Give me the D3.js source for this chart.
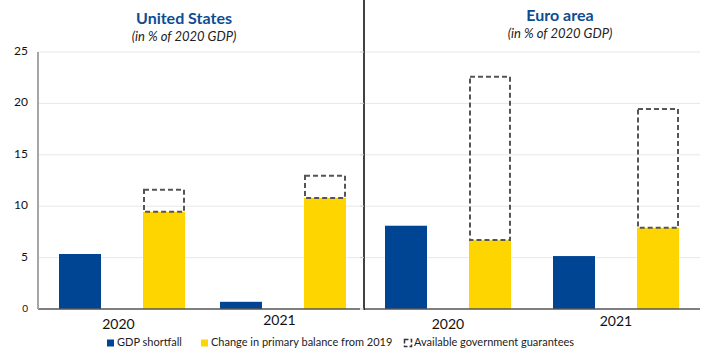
<!DOCTYPE html>
<html><head><meta charset="utf-8">
<script src="https://cdn.jsdelivr.net/npm/d3@7"></script>
<style>body{margin:0;background:#fff}svg{display:block}text{font-family:Lato,"Open Sans",sans-serif}</style>
</head><body><svg id="c" width="712" height="360"></svg>
<script>
const categories = ["2020", "2021"];
const regions = ["United States", "Euro area"];
const subtitle = "(in % of 2020 GDP)";
const seriesNames = ["GDP shortfall", "Change in primary balance from 2019", "Available government guarantees"];
const gdpShortfall = { "United States": [5.35, 0.7], "Euro area": [8.1, 5.15] };
const primaryBalance = { "United States": [9.45, 10.8], "Euro area": [6.7, 7.9] };
const guarantees = { "United States": [2.15, 2.15], "Euro area": [15.9, 11.55] };
const yTicks = [0, 5, 10, 15, 20, 25];

const blue = "#004494", yellow = "#FFD500", dash = "#555";
const svg = d3.select("#c");
const y = d3.scaleLinear().domain([0, 25]).range([309, 52]);

const panels = [
  { region: "United States", x0: 38, x1: 360, titleY: 20, subY: 38, tcx: 184, tcy: [325, 321] },
  { region: "Euro area", x0: 364, x1: 700, titleY: 17, subY: 35, tcx: 560, tcy: [325, 322] }
];

panels.forEach((p, pi) => {
  const g = svg.append("g");
  const xb = d3.scaleBand().domain(categories).range([p.x0, p.x1]);
  const inner = d3.scaleBand().domain(["gdp", "pb"]).range([21, 21 + 126]).paddingInner(0.5);
  // grid
  g.selectAll("line.grid").data(yTicks.filter(t => t > 0)).join("line")
    .attr("x1", p.x0).attr("x2", p.x1).attr("y1", d => y(d)).attr("y2", d => y(d))
    .attr("stroke", "#e8e8e8").attr("stroke-width", 1);
  categories.forEach((c, i) => {
    const bx = xb(c);
    const gv = gdpShortfall[p.region][i], pv = primaryBalance[p.region][i], gu = guarantees[p.region][i];
    g.append("rect").attr("x", bx + inner("gdp")).attr("width", inner.bandwidth())
      .attr("y", y(gv)).attr("height", y(0) - y(gv)).attr("fill", blue);
    g.append("rect").attr("x", bx + inner("pb")).attr("width", inner.bandwidth())
      .attr("y", y(pv)).attr("height", y(0) - y(pv)).attr("fill", yellow);
    g.append("rect").attr("x", bx + inner("pb") + 1).attr("width", inner.bandwidth() - 2)
      .attr("y", y(pv + gu)).attr("height", y(pv) - y(pv + gu))
      .attr("fill", "none").attr("stroke", dash).attr("stroke-width", 2).attr("stroke-dasharray", "5,3");
    g.append("text").attr("x", bx + xb.bandwidth() / 2).attr("y", p.tcy[i])
      .attr("text-anchor", "middle").attr("dominant-baseline", "middle")
      .attr("font-size", 14).attr("fill", "#111").text(c);
  });
  // x axis
  g.append("line").attr("x1", p.x0).attr("x2", p.x1).attr("y1", y(0)).attr("y2", y(0))
    .attr("stroke", "#555").attr("stroke-width", 1.3);
  // titles
  g.append("text").attr("x", p.tcx).attr("y", p.titleY).attr("text-anchor", "middle")
    .attr("dominant-baseline", "middle").attr("font-size", 16).attr("font-weight", "bold")
    .attr("fill", "#0e4c92").text(p.region);
  g.append("text").attr("x", p.tcx).attr("y", p.subY).attr("text-anchor", "middle")
    .attr("dominant-baseline", "middle").attr("font-size", 13).attr("font-style", "italic")
    .attr("fill", "#222").text(subtitle);
});

// left y axis
svg.append("line").attr("x1", 38).attr("x2", 38).attr("y1", y(25)).attr("y2", y(0))
  .attr("stroke", "#a6a6a6").attr("stroke-width", 2);
svg.selectAll("text.yt").data(yTicks).join("text")
  .attr("x", 28).attr("y", d => y(d)).attr("text-anchor", "end").attr("dominant-baseline", "middle")
  .attr("font-size", d => d === 0 ? 10 : 12).attr("fill", "#111").text(d => d);
// divider
svg.append("line").attr("x1", 364).attr("x2", 364).attr("y1", 0).attr("y2", y(0) + 1)
  .attr("stroke", "#111").attr("stroke-width", 1.6);
svg.selectAll("line.tk").data(yTicks).join("line")
  .attr("x1", 360).attr("x2", 364).attr("y1", d => y(d)).attr("y2", d => y(d))
  .attr("stroke", "#ccc").attr("stroke-width", 1);

// legend
const leg = svg.append("g").attr("font-size", 11);
const legX = [107, 201, 404];
seriesNames.forEach((s, i) => {
  const lx = legX[i], ly = 343;
  if (i < 2) {
    leg.append("rect").attr("x", lx).attr("y", ly - 3.5).attr("width", 7).attr("height", 7)
      .attr("fill", i === 0 ? blue : yellow);
  } else {
    leg.append("rect").attr("x", lx + 0.5).attr("y", ly - 3.5).attr("width", 7).attr("height", 7)
      .attr("fill", "none").attr("stroke", "#333").attr("stroke-width", 1.5).attr("stroke-dasharray", "4,2");
  }
  leg.append("text").attr("x", lx + 10).attr("y", ly).attr("dominant-baseline", "middle")
    .attr("fill", "#222").text(s);
});
</script></body></html>
